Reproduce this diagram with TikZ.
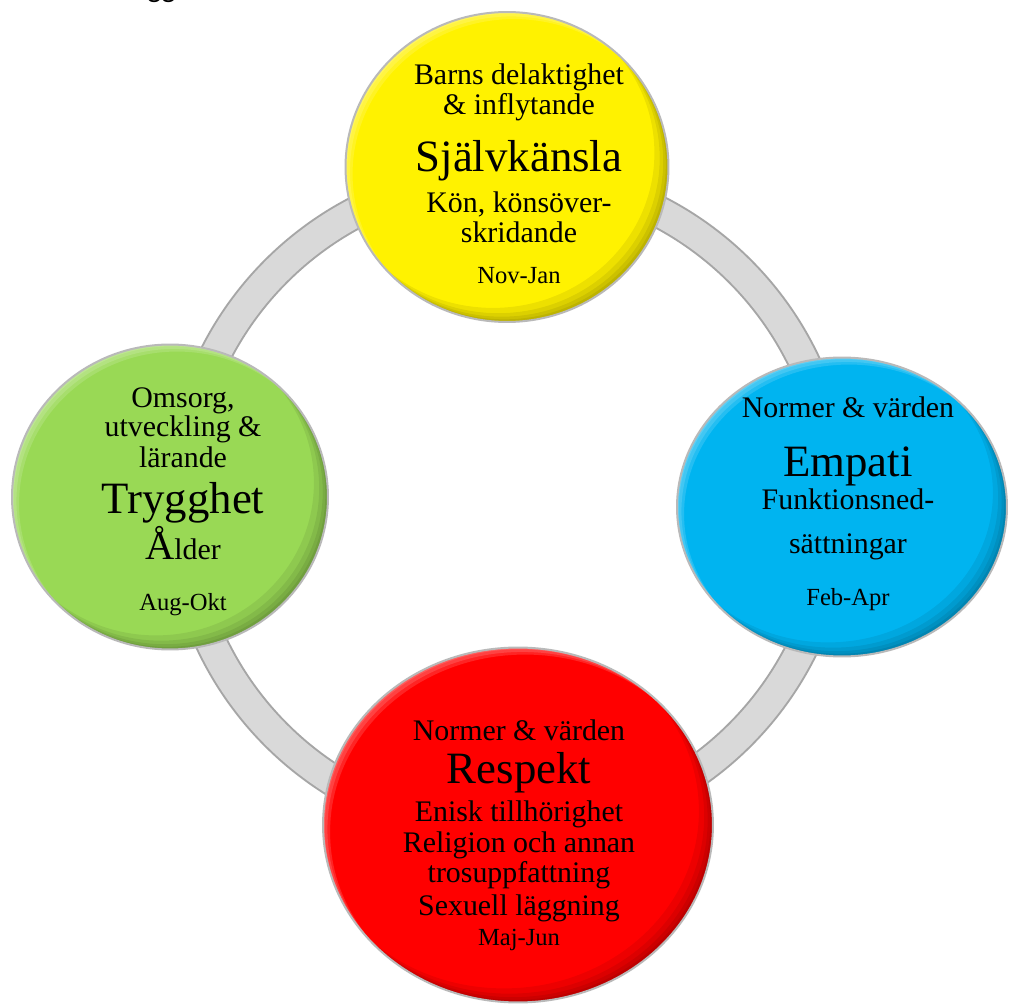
\documentclass[tikz,border=0pt]{standalone}
\usepackage{fontspec}
\setmainfont{Liberation Serif}
\newfontfamily\capfont{Carlito}
\usetikzlibrary{shapes.geometric}

\definecolor{ringfill}{HTML}{D9D9D9}
\definecolor{ringline}{HTML}{A6A6A6}
\definecolor{gronska}{HTML}{99D955}
\definecolor{himmel}{HTML}{00B4F0}

\tikzset{
  button/.style n args={3}{ellipse, inner sep=0pt, draw=gray!55, line width=0.04cm,
    fill=#1, minimum width=#2, minimum height=#3,
    path picture={
      % dark rim lower right, light rim upper left
      \foreach \d in {1.5,3,5,8}
        \fill[black, fill opacity=0.07, even odd rule]
          (path picture bounding box.south west) rectangle (path picture bounding box.north east)
          ([shift={(-\d pt,\d pt)}]path picture bounding box.center) ellipse [x radius=#2/2, y radius=#3/2];
      \foreach \d in {1,2.5,4}
        \fill[white, fill opacity=0.14, even odd rule]
          (path picture bounding box.south west) rectangle (path picture bounding box.north east)
          ([shift={(\d pt,-\d pt)}]path picture bounding box.center) ellipse [x radius=#2/2, y radius=#3/2];
    }},
  txt/.style={anchor=base, inner sep=0pt, font=\fontsize{17}{19}\selectfont},
  big/.style={anchor=base, inner sep=0pt, font=\fontsize{25.5}{28}\selectfont},
  small/.style={anchor=base, inner sep=0pt, font=\fontsize{14}{16}\selectfont},
}

\begin{document}
\begin{tikzpicture}[x=0.02cm, y=-0.02cm]
    \path[use as bounding box, fill=white] (0,0) rectangle (1009,1007);
    % cut caption line at the top
    \begin{scope}
    \clip (0,0) rectangle (1009,1007);
    \node[anchor=base west, inner sep=0pt, font=\capfont\fontsize{17}{19}\selectfont] (rubrik) at (147,-2.5) {gg};
    \end{scope}
    % ring
    \coordinate (ctr) at (508,503);
    \draw[line width=0.66cm, ringline] (ctr) circle[radius=6.56cm];
    \draw[line width=0.58cm, ringfill] (ctr) circle[radius=6.56cm];
    % the four buttons
    \node[button={yellow}{6.46cm}{6.2cm}] (sjalv) at (507,167) {};
    \node[button={gronska}{6.32cm}{6.1cm}] (trygg) at (170,497) {};
    \node[button={himmel}{6.6cm}{5.98cm}] (empati) at (842,507) {};
    \node[button={red}{7.8cm}{7.1cm}] (respekt) at (518,825) {};
    % texts
    \foreach \y/\s/\t [count=\i] in {85/txt/Barns delaktighet, 115/txt/\& inflytande,
        172/big/Självkänsla, 213/txt/{Kön, könsöver-}, 243/txt/skridande, 284/small/Nov-Jan}{
        \node[\s] (sjalv-\i) at (519,\y) {\t};
    }
    \foreach \y/\s/\t [count=\i] in {408/txt/{Omsorg,}, 437/txt/utveckling \&, 467/txt/lärande,
        513/big/Trygghet, 560/txt/{{\fontsize{23}{25}\selectfont Å}lder}, 610/small/Aug-Okt}{
        \node[\s] (trygg-\i) at (183,\y) {\t};
    }
    \foreach \y/\s/\t [count=\i] in {418/txt/Normer \& värden, 477/big/Empati,
        509/txt/Funktionsned-, 553/txt/sättningar, 605/small/Feb-Apr}{
        \node[\s] (empati-\i) at (848,\y) {\t};
    }
    \foreach \y/\s/\t [count=\i] in {740/txt/Normer \& värden, 783/big/Respekt,
        821/txt/Enisk tillhörighet, 852/txt/Religion och annan, 882/txt/trosuppfattning,
        915/txt/Sexuell läggning, 945/small/Maj-Jun}{
        \node[\s] (respekt-\i) at (519,\y) {\t};
    }
\end{tikzpicture}
\end{document}
